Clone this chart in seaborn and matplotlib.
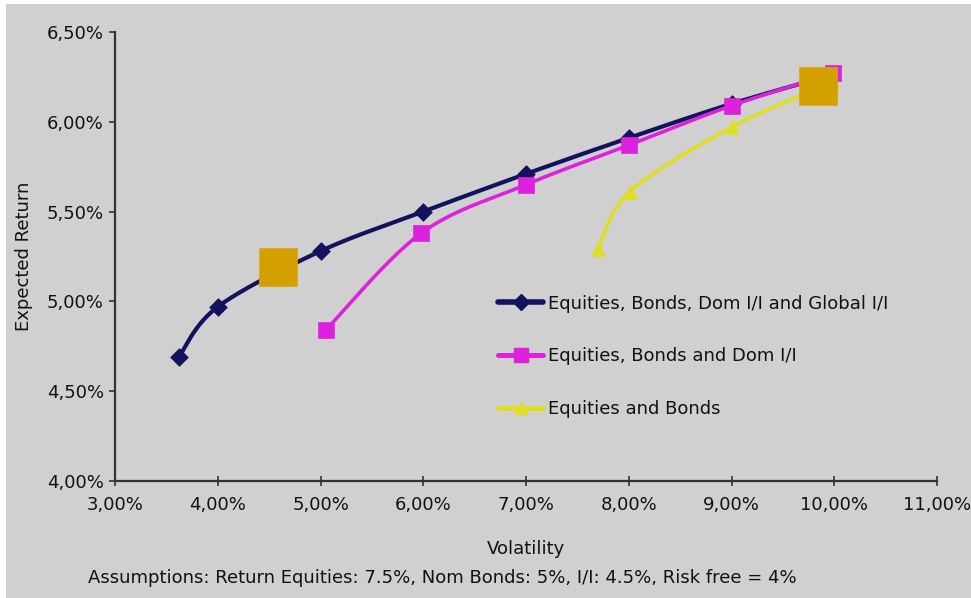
import numpy as np
import pandas as pd
import matplotlib
matplotlib.use("Agg")
import matplotlib.pyplot as plt
from matplotlib.lines import Line2D
from matplotlib.patches import Rectangle
from matplotlib.ticker import FuncFormatter, MultipleLocator
import seaborn as sns

# Efficient frontiers: volatility (%) vs expected return (%)
global_vol = [3.62, 4.00, 5.00, 6.00, 7.00, 8.00, 9.00, 9.97]
global_ret = [4.69, 4.97, 5.28, 5.50, 5.71, 5.91, 6.10, 6.26]

dom_vol = [5.05, 5.98, 7.00, 8.00, 9.00, 9.99]
dom_ret = [4.84, 5.38, 5.65, 5.87, 6.09, 6.27]

eb_vol = [7.70, 8.01, 9.00, 9.98]
eb_ret = [5.29, 5.61, 5.97, 6.22]

# Highlighted portfolios
highlight_vol = [4.59, 9.84]
highlight_ret = [5.19, 6.20]

labels = ["Equities, Bonds, Dom I/I and Global I/I",
          "Equities, Bonds and Dom I/I",
          "Equities and Bonds"]
colors = ["#12125e", "#dd22dd", "#dede22"]
markers = ["D", "s", "^"]
marker_sizes = [9, 11, 10]
line_widths = [3.0, 2.6, 2.6]

XMIN, XMAX, YMIN, YMAX = 3.0, 11.0, 4.0, 6.5
FS = 13

sns.set_theme(style="white")
plt.rcParams["font.family"] = ["DejaVu Sans"]

fig = plt.figure(figsize=(9.71, 5.98), dpi=100, facecolor="white")
# grey chart area with a thin light margin at the top and left
fig.patches.append(Rectangle((6 / 971, 0), 1, 1 - 4 / 598, transform=fig.transFigure,
                             facecolor="#d0d0d0", edgecolor="none", zorder=-10))
ax = fig.add_axes([115 / 971, 1 - 481 / 598, 822 / 971, 449 / 598])
ax.patch.set_alpha(0)

# axes size in pixels for smoothing in screen space
W_PX, H_PX = 822.0, 449.0


def smooth(xs, ys, n=30):
    """Catmull-Rom style smoothed path through the points (computed in screen space)."""
    px = (np.asarray(xs) - XMIN) / (XMAX - XMIN) * W_PX
    py = (np.asarray(ys) - YMIN) / (YMAX - YMIN) * H_PX
    pts = np.column_stack([px, py])
    out = [pts[0]]
    for i in range(len(pts) - 1):
        p0 = pts[i - 1] if i > 0 else pts[i]
        p1 = pts[i]
        p2 = pts[i + 1]
        p3 = pts[i + 2] if i + 2 < len(pts) else pts[i + 1]
        c1 = p1 + (p2 - p0) / 6.0
        c2 = p2 - (p3 - p1) / 6.0
        t = np.linspace(0, 1, n)[1:, None]
        seg = ((1 - t) ** 3) * p1 + 3 * ((1 - t) ** 2) * t * c1 + 3 * (1 - t) * t ** 2 * c2 + t ** 3 * p2
        out.extend(seg)
    out = np.array(out)
    sx = out[:, 0] / W_PX * (XMAX - XMIN) + XMIN
    sy = out[:, 1] / H_PX * (YMAX - YMIN) + YMIN
    return sx, sy


series = [(global_vol, global_ret), (dom_vol, dom_ret), (eb_vol, eb_ret)]
for k, (xs, ys) in enumerate(series):
    sx, sy = smooth(xs, ys)
    curve = pd.DataFrame({"vol": sx, "ret": sy})
    sns.lineplot(data=curve, x="vol", y="ret", ax=ax, color=colors[k],
                 linewidth=line_widths[k], sort=False, estimator=None, zorder=3 + k)
    pts = pd.DataFrame({"vol": xs, "ret": ys})
    sns.scatterplot(data=pts, x="vol", y="ret", ax=ax, color=colors[k], marker=markers[k],
                    s=marker_sizes[k] ** 2, edgecolor=colors[k], linewidth=0.5, zorder=3.5 + k)

hl = pd.DataFrame({"vol": highlight_vol, "ret": highlight_ret})
sns.scatterplot(data=hl, x="vol", y="ret", ax=ax, color="#d4a000", marker="s",
                s=27 ** 2, edgecolor="#d8a810", linewidth=0.5, zorder=10)

ax.set_xlim(XMIN, XMAX)
ax.set_ylim(YMIN, YMAX)
ax.xaxis.set_major_locator(MultipleLocator(1.0))
ax.yaxis.set_major_locator(MultipleLocator(0.5))
fmt = FuncFormatter(lambda v, p: f"{v:.2f}".replace(".", ",") + "%")
ax.xaxis.set_major_formatter(fmt)
ax.yaxis.set_major_formatter(fmt)

for side in ["top", "right"]:
    ax.spines[side].set_visible(False)
for side in ["left", "bottom"]:
    ax.spines[side].set_color("#333333")
    ax.spines[side].set_linewidth(1.6)
ax.tick_params(axis="x", direction="inout", length=7, width=1.2, color="#333333",
               labelsize=FS, labelcolor="#111111", pad=7, bottom=True)
ax.tick_params(axis="y", direction="out", length=4, width=1.2, color="#333333",
               labelsize=FS, labelcolor="#111111", pad=4, left=True)

ax.set_xlabel("Volatility", fontsize=FS, color="#111111", labelpad=19)
ax.set_ylabel("Expected Return", fontsize=FS, color="#111111", labelpad=10)

handles = [Line2D([0], [0], color=colors[k], linewidth=line_widths[k] + 1,
                  marker=markers[k], markersize=marker_sizes[k] - 1)
           for k in range(3)]
ax.legend(handles, labels, loc="upper left", bbox_to_anchor=(0.466, 0.415),
          frameon=False, fontsize=FS, handlelength=2.5, handletextpad=0.25,
          labelspacing=1.92, borderpad=0, borderaxespad=0, labelcolor="#111111")

fig.text(88 / 971, 1 - 578 / 598,
         "Assumptions: Return Equities: 7.5%, Nom Bonds: 5%, I/I: 4.5%, Risk free = 4%",
         fontsize=FS, color="#111111", va="center", ha="left")

fig.savefig("out.png", dpi=100, facecolor=fig.get_facecolor())
